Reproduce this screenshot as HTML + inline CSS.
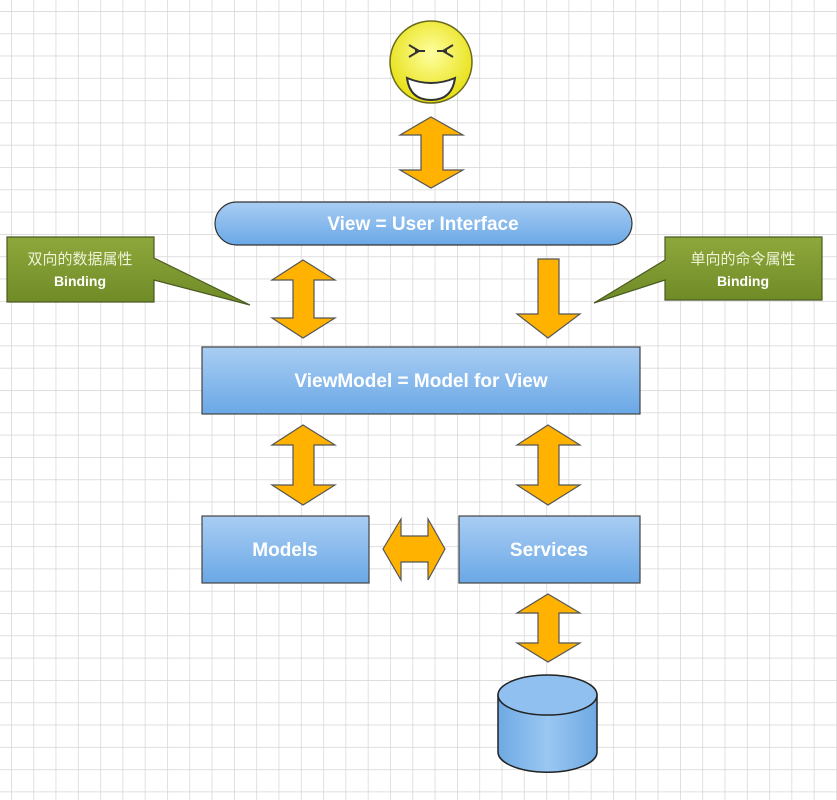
<!DOCTYPE html>
<html><head><meta charset="utf-8"><style>
html,body{margin:0;padding:0;background:#fff}
svg{display:block}
</style></head><body>
<svg width="837" height="800" xmlns="http://www.w3.org/2000/svg">
<defs>
<pattern id="g" x="11" y="11" width="22.3" height="22.3" patternUnits="userSpaceOnUse">
<path d="M0 0H22.3M0 0V22.3" stroke="#d4d4d4" stroke-width="1.4" fill="none"/>
</pattern>
<linearGradient id="b" x1="0" y1="0" x2="0" y2="1"><stop offset="0" stop-color="#a9cdf3"/><stop offset="1" stop-color="#6aa8e6"/></linearGradient>
<linearGradient id="cy" x1="0" y1="0" x2="1" y2="0"><stop offset="0" stop-color="#6ea9e3"/><stop offset="0.5" stop-color="#9ac7f2"/><stop offset="1" stop-color="#6ea9e3"/></linearGradient>
<radialGradient id="sm" cx="0.5" cy="0.4" r="0.6"><stop offset="0" stop-color="#ffffa0"/><stop offset="1" stop-color="#e6df10"/></radialGradient>
<linearGradient id="gr" x1="0" y1="0" x2="0" y2="1"><stop offset="0" stop-color="#8fa83c"/><stop offset="1" stop-color="#6e8a26"/></linearGradient>
</defs>
<rect width="837" height="800" fill="url(#g)"/>
<g font-family="'Liberation Sans','Noto Sans CJK SC',sans-serif">
<circle cx="431" cy="62" r="41" fill="url(#sm)" stroke="#6a6a20" stroke-width="1.5"/>
<path d="M407 78 Q431 88 455 78 Q452 100 431 100 Q410 100 407 78Z" fill="#fff" stroke="#333" stroke-width="2"/>
<path d="M409 45 L419 51 L409 57 M415 51H425" stroke="#333" stroke-width="2" fill="none"/>
<path d="M453 45 L443 51 L453 57 M447 51H437" stroke="#333" stroke-width="2" fill="none"/>
<g fill="#ffb300" stroke="#555" stroke-width="1.2">
<path d="M431 117 L463 135 L443 135 L443 170 L463 170 L431 188 L400 170 L421 170 L421 135 L400 135Z"/>
<path d="M303 260 L335 280 L314 280 L314 318 L335 318 L303 338 L272 318 L293 318 L293 280 L272 280Z"/>
<path d="M538 259 L559 259 L559 314 L580 314 L548 338 L517 314 L538 314Z"/>
<path d="M303 425 L335 445 L314 445 L314 485 L335 485 L303 505 L272 485 L293 485 L293 445 L272 445Z"/>
<path d="M548 425 L580 445 L559 445 L559 485 L580 485 L548 505 L517 485 L538 485 L538 445 L517 445Z"/>
<path d="M548 594 L580 613 L559 613 L559 643 L580 643 L548 662 L517 643 L538 643 L538 613 L517 613Z"/>
<path d="M383 549 L401 519 L401 536 L428 536 L428 519 L445 549 L428 580 L428 562 L401 562 L401 580Z"/>
</g>
<rect x="215" y="202" width="417" height="43" rx="21.5" fill="url(#b)" stroke="#333" stroke-width="1.2"/>
<text x="423" y="230" text-anchor="middle" fill="#fff" font-size="19" font-weight="bold">View = User Interface</text>
<rect x="202" y="347" width="438" height="67" fill="url(#b)" stroke="#444" stroke-width="1.2"/>
<text x="421" y="387" text-anchor="middle" fill="#fff" font-size="19" font-weight="bold">ViewModel = Model for View</text>
<rect x="202" y="516" width="167" height="67" fill="url(#b)" stroke="#444" stroke-width="1.2"/>
<text x="285" y="556" text-anchor="middle" fill="#fff" font-size="19" font-weight="bold">Models</text>
<rect x="459" y="516" width="181" height="67" fill="url(#b)" stroke="#444" stroke-width="1.2"/>
<text x="549" y="556" text-anchor="middle" fill="#fff" font-size="19" font-weight="bold">Services</text>
<path d="M498 695 V752 A49 20 0 0 0 597 752 V695Z" fill="url(#cy)" stroke="#222" stroke-width="1.5"/>
<ellipse cx="547.5" cy="695" rx="49.5" ry="20" fill="#8fc0ef" stroke="#222" stroke-width="1.5"/>
<path d="M7 237 H154 V258 L250 305 L154 280 V302 H7Z" fill="url(#gr)" stroke="#4a5a20" stroke-width="1.2"/>
<text x="80" y="264" text-anchor="middle" fill="#eef3d8" font-size="15">双向的数据属性</text>
<text x="80" y="286" text-anchor="middle" fill="#fff" font-size="14" font-weight="bold">Binding</text>
<path d="M665 237 H822 V300 H665 V280 L594 303 L665 260Z" fill="url(#gr)" stroke="#4a5a20" stroke-width="1.2"/>
<text x="743" y="264" text-anchor="middle" fill="#eef3d8" font-size="15">单向的命令属性</text>
<text x="743" y="286" text-anchor="middle" fill="#fff" font-size="14" font-weight="bold">Binding</text>
</g>
</svg>
</body></html>
